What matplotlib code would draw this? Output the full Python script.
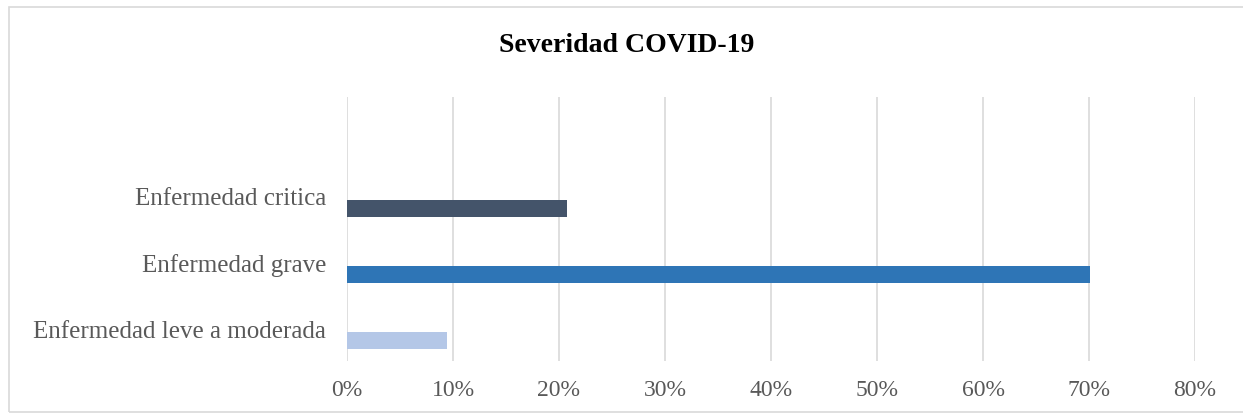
import matplotlib
matplotlib.use("Agg")
import matplotlib.pyplot as plt
from matplotlib.patches import Rectangle
from matplotlib.ticker import FuncFormatter

categories = ["Enfermedad leve a moderada", "Enfermedad grave", "Enfermedad critica"]
values = [9.4, 70.1, 20.8]
colors = ["#b4c7e7", "#2e75b6", "#44546a"]
xticks = [0, 10, 20, 30, 40, 50, 60, 70, 80]
title = "Severidad COVID-19"

plt.rcParams['font.family'] = ['Liberation Serif', 'DejaVu Serif']

W, H = 1243, 416
fig = plt.figure(figsize=(W / 100, H / 100), dpi=100)
fig.patch.set_facecolor("white")

# outer chart frame (right side runs off the image)
fig.add_artist(Rectangle((9 / W, 1 - 412 / H), (W + 40) / W, (412 - 7) / H,
                         transform=fig.transFigure, fill=False,
                         edgecolor="#d9d9d9", linewidth=1.2))

left, right = 347, 1195
top, bottom = 97, 361
ax = fig.add_axes([left / W, 1 - bottom / H, (right - left) / W, (bottom - top) / H])

pos = list(range(len(categories)))
ax.barh(pos, values, height=0.26, color=colors, zorder=3)

ax.set_xlim(0, 80)
ax.set_ylim(-0.31, 3.68)
ax.set_xticks(xticks)
ax.xaxis.set_major_formatter(FuncFormatter(lambda v, p: f"{int(v)}%"))
ax.set_yticks([p + 0.17 for p in pos])
ax.set_yticklabels(categories)

ax.grid(axis="x", color="#d9d9d9", linewidth=1.2, zorder=0)
ax.grid(axis="y", visible=False)
for s in ax.spines.values():
    s.set_visible(False)
ax.tick_params(axis="both", length=0, colors="#595959", labelsize=17)
ax.tick_params(axis="y", labelsize=18, pad=15)
ax.tick_params(axis="x", pad=14)

fig.text(627 / W, 1 - 45 / H, title, ha="center", va="center",
         fontsize=20, fontweight="bold", color="#000000")

fig.savefig("out.png", dpi=100, facecolor="white")
